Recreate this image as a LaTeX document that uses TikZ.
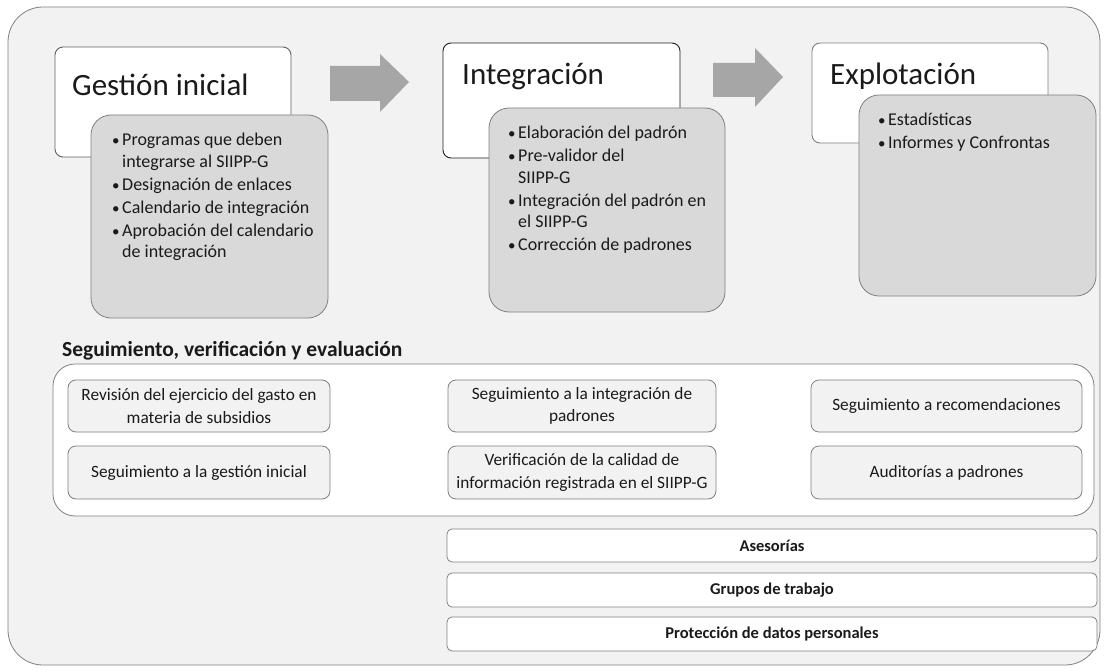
\documentclass[tikz,border=0pt]{standalone}
\usepackage{fontspec}
\setmainfont{Carlito}
\definecolor{bggray}{HTML}{F2F2F2}
\definecolor{boxgray}{HTML}{D9D9D9}
\definecolor{edgegray}{HTML}{808080}
\definecolor{arrowgray}{HTML}{A6A6A6}
\definecolor{txt}{HTML}{1A1A1A}
\newcommand{\bitem}[1]{\makebox[10pt][l]{\fontsize{15}{15}\selectfont •}#1}
\newcommand{\bcont}[1]{\hspace*{10pt}#1}
\begin{document}
\begin{tikzpicture}[x=1pt,y=-1pt,
  outerbox/.style={draw=edgegray, fill=bggray, line width=0.8pt, rounded corners=35pt},
  phasebox/.style={fill=white, line width=0.9pt, rounded corners=8pt, inner sep=0pt, outer sep=0pt},
  listbox/.style={draw=edgegray, fill=boxgray, line width=0.8pt, rounded corners=20pt, inner sep=0pt, outer sep=0pt},
  phasetitle/.style={anchor=base west, inner sep=0pt, text=txt, font=\fontsize{31}{37}\selectfont},
  listtext/.style={anchor=base west, inner sep=0pt, text=txt, font=\fontsize{18}{21.5}\selectfont},
  blockarrow/.style={fill=arrowgray},
  container/.style={draw=edgegray, fill=white, line width=0.8pt, rounded corners=22pt, inner sep=0pt},
  sbox/.style={draw=edgegray, fill=bggray, line width=0.8pt, rounded corners=8pt, inner sep=0pt,
    align=center, text=txt, font=\fontsize{17.3}{22.5}\selectfont},
  bar/.style={draw=edgegray, fill=white, line width=0.8pt, rounded corners=5pt, inner sep=0pt,
    minimum width=650pt, text=txt, font=\fontsize{16.5}{19}\selectfont\bfseries},
]
\useasboundingbox (0,0) rectangle (1106,671);
% outer background
\node[outerbox, inner sep=0pt, minimum width=1092pt, minimum height=658pt] (outer) at (554,336) {};

% phase boxes
\node[phasebox, draw=black!62, minimum width=236pt, minimum height=110pt] (gest) at (173,102) {};
\node[phasebox, draw=black!88, minimum width=237pt, minimum height=115pt] (integ) at (561.5,100.5) {};
\node[phasebox, draw=edgegray, minimum width=236pt, minimum height=100pt] (explo) at (930,93) {};

\node[phasetitle] (gestT) at (72,96) {Gestión inicial};
\node[phasetitle] (integT) at (462,85) {Integración};
\node[phasetitle] (exploT) at (830,85) {Explotación};

% list boxes
\node[listbox, minimum width=237pt, minimum height=203pt] (list1) at (209.5,216.5) {};
\node[listbox, minimum width=236pt, minimum height=204pt] (list2) at (607,210) {};
\node[listbox, minimum width=237pt, minimum height=201pt] (list3) at (977.5,195.5) {};

\node[listtext] (list1T) at (112,146) {\parbox[t]{215pt}{%
\bitem{Programas que deben}\\
\bcont{integrarse al SIIPP-G}\\[1.5pt]
\bitem{Designación de enlaces}\\[1.5pt]
\bitem{Calendario de integración}\\[1.5pt]
\bitem{Aprobación del calendario}\\
\bcont{de integración}}};

\node[listtext] (list2T) at (508,139) {\parbox[t]{215pt}{%
\bitem{Elaboración del padrón}\\[1.5pt]
\bitem{Pre-validor del}\\
\bcont{SIIPP-G}\\[1.5pt]
\bitem{Integración del padrón en}\\
\bcont{el SIIPP-G}\\[1.5pt]
\bitem{Corrección de padrones}}};

\node[listtext] (list3T) at (878,126) {\parbox[t]{215pt}{%
\bitem{Estadísticas}\\[1.5pt]
\bitem{Informes y Confrontas}}};

% block arrows
\fill[blockarrow] (330,66) -- (380,66) -- (380,54) -- (409,82) -- (380,112) -- (380,101) -- (330,101) -- cycle;
\fill[blockarrow] (713,63) -- (755,63) -- (755,48) -- (783,77) -- (755,107) -- (755,97) -- (713,97) -- cycle;

% section title
\node[anchor=base west, inner sep=0pt, text=txt, font=\fontsize{21.5}{25}\selectfont\bfseries] (secT) at (62,356)
  {Seguimiento, verificación y evaluación};

% container
\node[container, minimum width=1041pt, minimum height=152pt] (cont) at (573.5,440) {};

% small boxes
\node[sbox, minimum width=262pt, minimum height=52pt] (b11) at (199,406) {Revisión del ejercicio del gasto en\\materia de subsidios};
\node[sbox, minimum width=262pt, minimum height=53pt] (b12) at (199,472.5) {Seguimiento a la gestión inicial};
\node[sbox, minimum width=268pt, minimum height=52pt] (b21) at (582,406) {Seguimiento a la integración de\\padrones};
\node[sbox, minimum width=268pt, minimum height=53pt] (b22) at (582,472.5) {Verificación de la calidad de\\información registrada en el SIIPP-G};
\node[sbox, minimum width=271pt, minimum height=52pt] (b31) at (946.5,406) {Seguimiento a recomendaciones};
\node[sbox, minimum width=271pt, minimum height=53pt] (b32) at (946.5,472.5) {Auditorías a padrones};

% bars
\node[bar, minimum height=33pt] (bar1) at (772,545.5) {Asesorías};
\node[bar, minimum height=34pt] (bar2) at (772,590) {Grupos de trabajo};
\node[bar, minimum height=34pt] (bar3) at (772,634) {Protección de datos personales};
\end{tikzpicture}
\end{document}
